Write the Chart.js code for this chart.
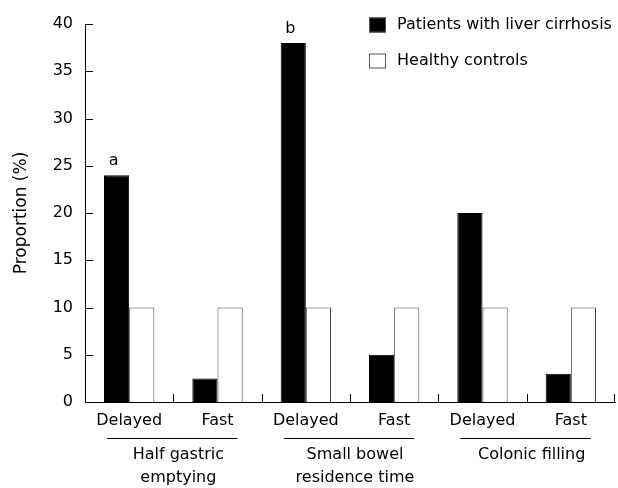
<!DOCTYPE html>
<html>
<head>
<meta charset="utf-8">
<script src="https://cdn.jsdelivr.net/npm/chart.js@4"></script>
<style>
  body { margin: 0; background: #fff; }
  canvas { display: block; }
</style>
</head>
<body>
<canvas id="myChart" width="618" height="488"></canvas>
<script>
// data
var categories = ['Delayed', 'Fast', 'Delayed', 'Fast', 'Delayed', 'Fast']
var groups = [['Half gastric', 'emptying'], ['Small bowel', 'residence time'], ['Colonic filling']]
var patients = [24, 2.5, 38, 5, 20, 3]
var controls = [10, 10, 10, 10, 10, 10]
var marks = ['a', '', 'b', '', '', '']
var seriesNames = ['Patients with liver cirrhosis', 'Healthy controls']

var FONT = '"DejaVu Sans", sans-serif'

// tick marks, group labels, letters and legend
var extras = {
  id: 'extras',
  afterDraw: function (chart) {
    var c = chart.ctx
    var x = chart.scales.x
    var y = chart.scales.y
    var area = chart.chartArea
    c.save()
    c.strokeStyle = '#000'
    c.lineWidth = 1
    // inward tick marks
    y.ticks.forEach(function (t) {
      var py = Math.round(y.getPixelForValue(t.value)) + 0.5
      c.beginPath(); c.moveTo(area.left, py); c.lineTo(area.left + 8, py); c.stroke()
    })
    for (var i = 1; i <= categories.length; i++) {
      var px = Math.round((x.getPixelForValue(i - 1) + x.getPixelForValue(i)) / 2) + 0.5
      if (i === categories.length) px = Math.round(area.right) - 0.5
      c.beginPath(); c.moveTo(px, area.bottom); c.lineTo(px, area.bottom - 8); c.stroke()
    }
    // group underline and labels
    c.fillStyle = '#000'
    c.font = '16px ' + FONT
    c.textAlign = 'center'
    c.textBaseline = 'middle'
    groups.forEach(function (g, k) {
      var a = x.getPixelForValue(k * 2)
      var b = x.getPixelForValue(k * 2 + 1)
      var ly = area.bottom + 36.5
      c.beginPath(); c.moveTo(a - 22, ly); c.lineTo(b + 20, ly); c.stroke()
      g.forEach(function (line, j) {
        c.fillText(line, (a + b) / 2 + 5, area.bottom + 53 + j * 23)
      })
    })
    // significance letters
    var meta = chart.getDatasetMeta(0)
    marks.forEach(function (m, i) {
      if (!m) return
      var bar = meta.data[i]
      c.fillText(m, bar.x - 3, bar.y - 14)
    })
    // legend
    var lx = 369
    var rows = [25, 61]
    chart.data.datasets.forEach(function (ds, k) {
      c.fillStyle = ds.backgroundColor
      c.fillRect(lx, rows[k] - 7.5, 17, 15)
      c.strokeStyle = '#555'
      c.strokeRect(lx + 0.5, rows[k] - 7, 16, 14)
      c.fillStyle = '#000'
      c.textAlign = 'left'
      c.fillText(ds.label, 397, rows[k])
    })
    c.restore()
  }
}

var ctx = document.getElementById('myChart')
var myChart = new Chart(ctx, {
  type: 'bar',
  data: {
    labels: categories,
    datasets: [{
      label: seriesNames[0],
      data: patients,
      backgroundColor: '#000',
      borderColor: '#000',
      borderWidth: 1,
      categoryPercentage: 0.57,
      barPercentage: 1
    }, {
      label: seriesNames[1],
      data: controls,
      backgroundColor: '#fff',
      borderColor: '#444',
      borderWidth: 1,
      categoryPercentage: 0.57,
      barPercentage: 1
    }]
  },
  options: {
    responsive: false,
    animation: false,
    devicePixelRatio: 1,
    layout: { padding: { top: 24, right: 3, left: 0, bottom: 0 } },
    plugins: {
      legend: { display: false },
      tooltip: { enabled: false }
    },
    scales: {
      x: {
        offset: true,
        grid: { display: false, drawTicks: false },
        border: { display: true, color: '#000', width: 1 },
        ticks: { color: '#000', font: { family: FONT, size: 16 }, padding: 9, maxRotation: 0, autoSkip: false },
        afterFit: function (s) { s.height = 86 }
      },
      y: {
        min: 0,
        max: 40,
        grid: { display: false, drawTicks: false },
        border: { display: true, color: '#000', width: 1 },
        ticks: { stepSize: 5, color: '#000', font: { family: FONT, size: 16 }, padding: 12 },
        title: { display: true, text: 'Proportion (%)', color: '#000', font: { family: FONT, size: 17 }, padding: { top: 11, bottom: 0 } },
        afterFit: function (s) { s.width = 85 }
      }
    }
  },
  plugins: [extras]
})
</script>
</body>
</html>
